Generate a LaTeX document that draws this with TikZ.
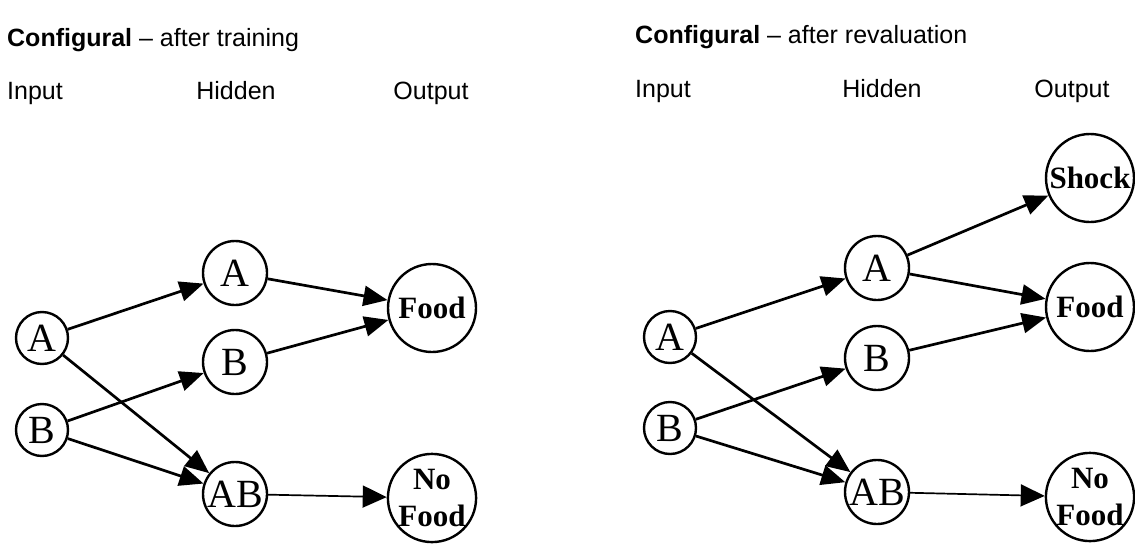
\documentclass[tikz,border=0pt]{standalone}
\usepackage{fontspec}
\setmainfont{Liberation Serif}
\newfontfamily\labelfont{Liberation Sans}
\usetikzlibrary{arrows.meta}

\newcommand{\scale}{1pt}

\tikzset{
  unit/.style = {draw, circle, line width = 2.4pt, inner sep = 0pt, font = \fontsize{40}{40}\selectfont},
  inp/.style = {unit, minimum size = 52pt},
  hid/.style = {unit, minimum size = 64pt},
  outp/.style = {unit, minimum size = 88pt, align = center, font = \fontsize{31}{37}\selectfont\bfseries},
  lbl/.style = {anchor = base, inner sep = 0pt, font = \fontsize{25}{25}\selectfont\labelfont},
  link/.style = {line width = 2.7pt, -{Triangle[length = 24pt, width = 20pt]}},
  thinlink/.style = {line width = 1.7pt, -{Triangle[length = 24pt, width = 22pt]}}
}

\begin{document}
\begin{tikzpicture}[x = \scale, y = -\scale]
\useasboundingbox (0,0) rectangle (1135,546);

% after training
\node [lbl, anchor = base west] (t1) at (7,46) {\textbf{Configural} – after training};
\node [lbl, anchor = base west] (l1) at (7,99) {Input};
\node [lbl] (l2) at (236,99) {Hidden};
\node [lbl] (l3) at (431,99) {Output};

\node [inp] (in1) at (42,338) {A};
\node [inp] (in2) at (42,430) {B};
\node [hid] (hid1) at (235,273) {A};
\node [hid] (hid2) at (235,362) {B};
\node [hid] (hid3) at (235,494) {AB};
\node [outp] (out1) at (432,308) {Food};
\node [outp] (out2) at (432,498) {No\\Food};

\draw [link] (in1) edge (hid1);
\draw [link] (in1) edge (hid3);
\draw [link] (in2) edge (hid2);
\draw [link] (in2) edge (hid3);
\draw [link] (hid1) edge (out1);
\draw [link] (hid2) edge (out1);
\draw [thinlink] (hid3) edge (out2);

% after revaluation
\node [lbl, anchor = base west] (t2) at (635,43) {\textbf{Configural} – after revaluation};
\node [lbl, anchor = base west] (l4) at (635,97) {Input};
\node [lbl] (l5) at (882,97) {Hidden};
\node [lbl] (l6) at (1072,97) {Output};

\node [inp] (in3) at (670,337) {A};
\node [inp] (in4) at (670,428) {B};
\node [hid] (hid4) at (877,268) {A};
\node [hid] (hid5) at (877,358) {B};
\node [hid] (hid6) at (877,492) {AB};
\node [outp] (out3) at (1090,178) {Shock};
\node [outp] (out4) at (1090,307) {Food};
\node [outp] (out5) at (1090,497) {No\\Food};

\draw [link] (in3) edge (hid4);
\draw [link] (in3) edge (hid6);
\draw [link] (in4) edge (hid5);
\draw [link] (in4) edge (hid6);
\draw [link] (hid4) edge (out3);
\draw [link] (hid4) edge (out4);
\draw [link] (hid5) edge (out4);
\draw [thinlink] (hid6) edge (out5);
\end{tikzpicture}
\end{document}
